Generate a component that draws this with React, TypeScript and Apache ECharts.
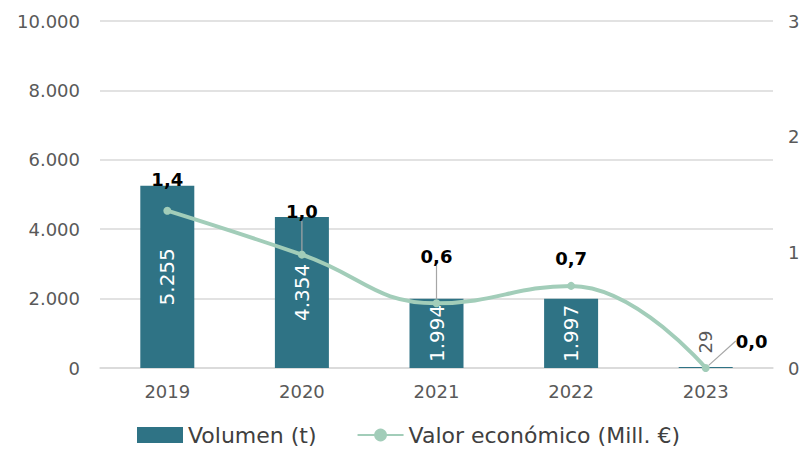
import React, { useEffect, useRef } from "react";
import * as echarts from "echarts";

const categories = ["2019", "2020", "2021", "2022", "2023"];
const volumen = [5255, 4354, 1994, 1997, 29];
const valor = [1.36, 0.98, 0.56, 0.71, 0.0];
const leftTicks = [0, 2000, 4000, 6000, 8000, 10000];
const rightTicks = [0, 1, 2, 3];

const FONT = "DejaVu Sans";
const BAR = "#2F7385";
const LINE = "#A2CDB9";
const AXIS_TXT = "#595959";
const GRID = "#D9D9D9";

// label shifts (styling only)
const lineLabelShift: [number, number][] = [
  [0, -13],
  [0, -25],
  [0, -29],
  [0, -9],
  [46, -9],
];
const showLeader = [false, true, true, false, true];

const fmtThousands = (v: number) =>
  String(Math.round(v)).replace(/\B(?=(\d{3})+(?!\d))/g, ".");

export default function App() {
  const ref = useRef<HTMLDivElement>(null);
  useEffect(() => {
    if (!ref.current) return;
    const chart = echarts.init(ref.current, null, { renderer: "svg" });
    chart.setOption({
      animation: false,
      textStyle: { fontFamily: FONT },
      grid: { left: 100, right: 34, top: 21, bottom: 86, containLabel: false },
      legend: {
        bottom: 3,
        left: 132,
        itemGap: 40,
        itemWidth: 46,
        itemHeight: 16,
        textStyle: { fontFamily: FONT, fontSize: 22, color: "#404040" },
        data: [
          { name: "Volumen (t)", icon: "rect" },
          { name: "Valor económico (Mill. €)" },
        ],
      },
      xAxis: {
        type: "category",
        data: categories,
        axisTick: { show: false },
        axisLine: { show: true, lineStyle: { color: GRID, width: 1.5 } },
        axisLabel: { color: AXIS_TXT, fontSize: 18, fontFamily: FONT, margin: 14 },
      },
      yAxis: [
        {
          type: "value",
          min: leftTicks[0],
          max: leftTicks[leftTicks.length - 1],
          interval: leftTicks[1] - leftTicks[0],
          axisLabel: {
            color: AXIS_TXT,
            fontSize: 18,
            fontFamily: FONT,
            margin: 20,
            formatter: (v: number) => fmtThousands(v),
          },
          splitLine: { lineStyle: { color: GRID, width: 1.5 } },
          axisLine: { show: false },
          axisTick: { show: false },
        },
        {
          type: "value",
          min: rightTicks[0],
          max: rightTicks[rightTicks.length - 1],
          interval: rightTicks[1] - rightTicks[0],
          axisLabel: { color: AXIS_TXT, fontSize: 18, fontFamily: FONT, margin: 15 },
          splitLine: { show: false },
          axisLine: { show: false },
          axisTick: { show: false },
        },
      ],
      series: [
        {
          name: "Volumen (t)",
          type: "bar",
          yAxisIndex: 0,
          barWidth: 54,
          itemStyle: { color: BAR },
          label: {
            show: true,
            position: "inside",
            rotate: 90,
            color: "#FFFFFF",
            fontSize: 20,
            fontFamily: FONT,
            formatter: (p: any) => fmtThousands(p.value),
          },
          data: volumen.map((v, i) =>
            i === volumen.length - 1
              ? {
                  value: v,
                  label: {
                    position: "top",
                    color: AXIS_TXT,
                    fontSize: 18,
                    offset: [20, 9],
                  },
                }
              : v
          ),
          z: 2,
        },
        {
          name: "Valor económico (Mill. €)",
          type: "line",
          yAxisIndex: 1,
          smooth: 0.45,
          symbol: "circle",
          symbolSize: 8,
          lineStyle: { color: LINE, width: 4 },
          itemStyle: { color: LINE },
          label: {
            show: true,
            position: "top",
            color: "#000000",
            fontWeight: "bold",
            fontSize: 18,
            fontFamily: FONT,
            formatter: (p: any) => p.value.toFixed(1).replace(".", ","),
          },
          labelLine: { show: true, lineStyle: { color: "#A6A6A6", width: 1.2 } },
          labelLayout: (params: any) => {
            const s = lineLabelShift[params.dataIndex];
            return { dx: s[0], dy: s[1] };
          },
          data: valor.map((v, i) => ({
            value: v,
            labelLine: { show: showLeader[i] },
          })),
          z: 3,
        },
      ],
    });
    return () => chart.dispose();
  }, []);
  return <div ref={ref} style={{ width: 807, height: 454, margin: -8 }} />;
}
